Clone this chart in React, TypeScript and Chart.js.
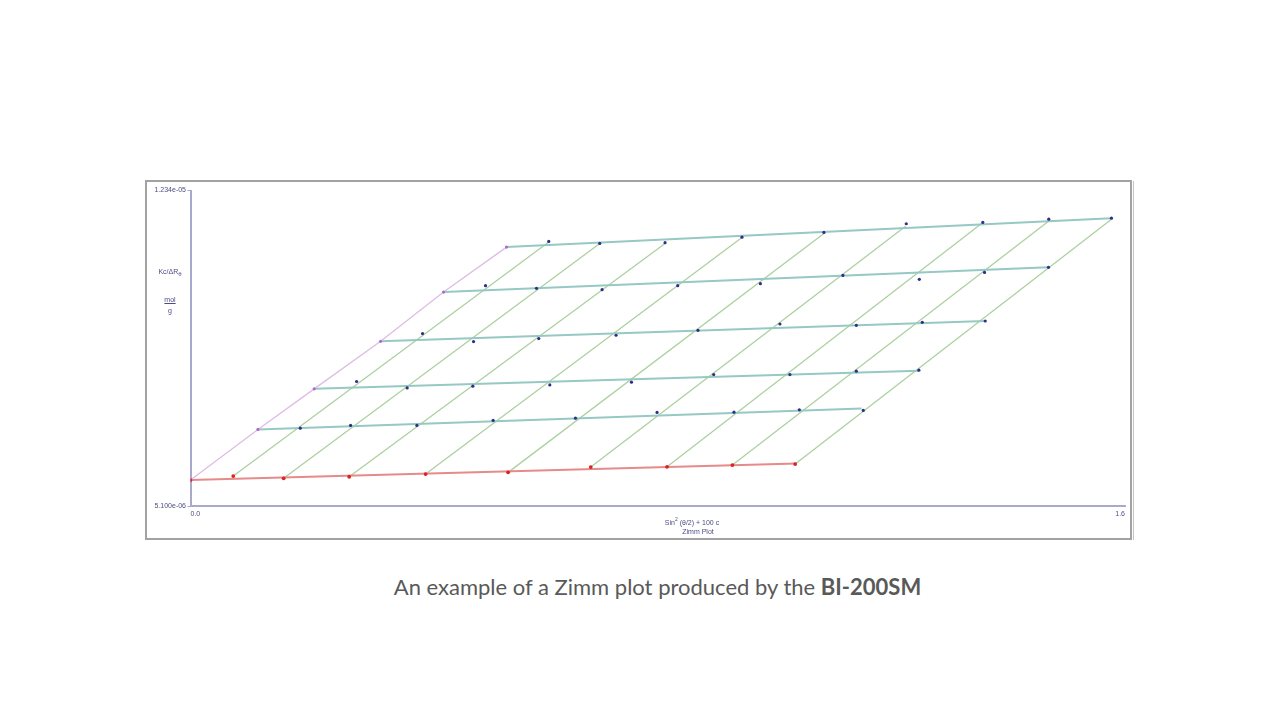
import React, { useEffect, useRef } from "react";
import { Chart, registerables } from "chart.js";

Chart.register(...registerables);

// Axis range (x: sin²(θ/2) + 100c ; y: Kc/ΔRθ in units of 1e-6 mol/g)
const X_MIN = 0;
const X_MAX = 1.6;
const Y_MIN = 5.1;
const Y_MAX = 12.34;

// Measured points, one array pair per concentration (9 angles each)
const measX_c1 = [0.1879, 0.2741, 0.3876, 0.5181, 0.6591, 0.7988, 0.9305, 1.0424, 1.1519];
const measY_c1 = [6.887, 6.949, 6.949, 7.063, 7.116, 7.247, 7.254, 7.306, 7.293];
const measX_c2 = [0.2844, 0.371, 0.4834, 0.6152, 0.755, 0.8958, 1.0263, 1.14, 1.2471];
const measY_c2 = [7.957, 7.81, 7.849, 7.879, 7.941, 8.117, 8.117, 8.193, 8.216];
const measX_c3 = [0.3973, 0.4846, 0.5963, 0.7286, 0.8689, 1.0092, 1.14, 1.2529, 1.3607];
const measY_c3 = [9.057, 8.873, 8.942, 9.018, 9.132, 9.277, 9.247, 9.316, 9.345];
const measX_c4 = [0.5051, 0.5924, 0.7047, 0.8342, 0.9757, 1.117, 1.2478, 1.3595, 1.469];
const measY_c4 = [10.157, 10.095, 10.065, 10.157, 10.202, 10.392, 10.301, 10.461, 10.576];
const measX_c5 = [0.6134, 0.7007, 0.8125, 0.9442, 1.0845, 1.2255, 1.3566, 1.4695, 1.5768];
const measY_c5 = [11.171, 11.126, 11.142, 11.27, 11.378, 11.577, 11.607, 11.682, 11.705];

// Common intercept (c = 0, θ = 0)
const interceptX = 0;
const interceptY = 5.696;

// c = 0 extrapolated points (one per angle)
const zeroConcX = [0.0732, 0.1595, 0.2717, 0.4025, 0.5438, 0.6853, 0.8159, 0.9278, 1.0353];
const zeroConcY = [5.787, 5.735, 5.771, 5.833, 5.872, 5.994, 6.0, 6.039, 6.062];
// end of the c = 0 fit line
const zeroConcFitEndX = 1.0378;
const zeroConcFitEndY = 6.078;

// θ = 0 extrapolated points (one per concentration)
const zeroAngleX = [0.1155, 0.2118, 0.3255, 0.4333, 0.5411];
const zeroAngleY = [6.857, 7.788, 8.88, 10.01, 11.041];

// constant-concentration fit lines: from θ=0 point to these ends
const concFitEndX = [1.149, 1.2471, 1.3607, 1.469, 1.5768];
const concFitEndY = [7.338, 8.204, 9.345, 10.576, 11.705];

// constant-angle fit lines: from c=0 point to these tops
const angleFitTopX = [0.6134, 0.7007, 0.8125, 0.9442, 1.084, 1.2243, 1.3556, 1.4685, 1.5763];
const angleFitTopY = [11.16, 11.126, 11.126, 11.263, 11.348, 11.522, 11.595, 11.63, 11.675];

const AXIS_COLOR = "#a9a9d0";
const TEXT_COLOR = "#4c4c84";
const TEAL = "#96c8c4";
const GREEN = "#abd1a0";
const RED_LINE = "#e68a8a";
const RED_DOT = "#dd2222";
const PURPLE_LINE = "#dfbbe6";
const PURPLE_DOT = "#ad6ccc";
const BLUE_DOT = "#2f2f88";

const pts = (xs: number[], ys: number[]) => xs.map((x, i) => ({ x, y: ys[i] }));

const fmtExp = (v: number) =>
  (v * 1e-6).toExponential(3).replace(/e([+-])(\d)$/, "e$10$2");

export default function App() {
  const ref = useRef<HTMLCanvasElement | null>(null);

  useEffect(() => {
    if (!ref.current) return;
    const measured: [number[], number[]][] = [
      [measX_c1, measY_c1],
      [measX_c2, measY_c2],
      [measX_c3, measY_c3],
      [measX_c4, measY_c4],
      [measX_c5, measY_c5],
    ];
    const datasets: any[] = [];
    measured.forEach(([xs, ys]) =>
      datasets.push({
        data: pts(xs, ys),
        showLine: false,
        pointRadius: 1.6,
        pointBackgroundColor: BLUE_DOT,
        pointBorderWidth: 0,
        order: 0,
      })
    );
    datasets.push({
      data: [{ x: interceptX, y: interceptY }, ...pts(zeroConcX, zeroConcY)],
      showLine: false,
      pointRadius: 1.9,
      pointBackgroundColor: RED_DOT,
      pointBorderWidth: 0,
      order: 0,
    });
    datasets.push({
      data: pts(zeroAngleX, zeroAngleY),
      showLine: false,
      pointRadius: 1.6,
      pointBackgroundColor: PURPLE_DOT,
      pointBorderWidth: 0,
      order: 0,
    });
    // θ = 0 line
    datasets.push({
      data: [{ x: interceptX, y: interceptY }, ...pts(zeroAngleX, zeroAngleY)],
      showLine: true,
      borderColor: PURPLE_LINE,
      borderWidth: 1.3,
      pointRadius: 0,
      order: 1,
    });
    // c = 0 line
    datasets.push({
      data: [
        { x: interceptX, y: interceptY },
        { x: zeroConcFitEndX, y: zeroConcFitEndY },
      ],
      showLine: true,
      borderColor: RED_LINE,
      borderWidth: 2,
      pointRadius: 0,
      order: 1,
    });
    // constant concentration lines
    zeroAngleX.forEach((x, i) =>
      datasets.push({
        data: [
          { x, y: zeroAngleY[i] },
          { x: concFitEndX[i], y: concFitEndY[i] },
        ],
        showLine: true,
        borderColor: TEAL,
        borderWidth: 2,
        pointRadius: 0,
        order: 2,
      })
    );
    // constant angle lines
    zeroConcX.forEach((x, j) =>
      datasets.push({
        data: [
          { x, y: zeroConcY[j] },
          { x: angleFitTopX[j], y: angleFitTopY[j] },
        ],
        showLine: true,
        borderColor: GREEN,
        borderWidth: 1.3,
        pointRadius: 0,
        order: 3,
      })
    );

    const tickFont = { family: "'Liberation Sans', Arial, sans-serif", size: 7 };
    const chart = new Chart(ref.current, {
      type: "scatter",
      data: { datasets },
      options: {
        animation: false,
        responsive: false,
        events: [],
        layout: { padding: { left: 0, right: 6, top: 8.5, bottom: 0 } },
        plugins: { legend: { display: false }, tooltip: { enabled: false } },
        elements: { line: { tension: 0 } },
        scales: {
          x: {
            type: "linear",
            min: X_MIN,
            max: X_MAX,
            afterBuildTicks: (s: any) => {
              s.ticks = [{ value: s.min }, { value: s.max }];
            },
            afterFit: (s: any) => {
              s.height = 32;
            },
            grid: { display: false, drawTicks: false },
            border: { display: true, color: AXIS_COLOR, width: 2 },
            ticks: {
              align: "inner",
              padding: 4,
              color: TEXT_COLOR,
              font: tickFont,
              maxRotation: 0,
              callback: (v: any) => Number(v).toFixed(1),
            },
          },
          y: {
            type: "linear",
            min: Y_MIN,
            max: Y_MAX,
            afterBuildTicks: (s: any) => {
              s.ticks = [{ value: s.min }, { value: s.max }];
            },
            afterFit: (s: any) => {
              s.width = 43.5;
            },
            grid: {
              display: true,
              drawOnChartArea: false,
              drawTicks: true,
              tickLength: 3,
              color: AXIS_COLOR,
            },
            border: { display: true, color: AXIS_COLOR, width: 2 },
            ticks: {
              padding: 1.5,
              color: TEXT_COLOR,
              font: tickFont,
              callback: (v: any) => fmtExp(Number(v)),
            },
          },
        },
      },
    } as any);
    return () => chart.destroy();
  }, []);

  const labelFont = "7px 'Liberation Sans', Arial, sans-serif";
  return (
    <div
      style={{
        position: "fixed",
        left: 0,
        top: 0,
        width: 1280,
        height: 720,
        background: "#ffffff",
        overflow: "hidden",
      }}
    >
      <div
        style={{
          position: "absolute",
          left: 145,
          top: 180,
          width: 987,
          height: 360,
          boxSizing: "border-box",
          border: "2px solid #a2a2a2",
        }}
      />
      <div
        style={{
          position: "absolute",
          left: 1133,
          top: 181,
          width: 1,
          height: 359,
          background: "#c4c4c4",
        }}
      />
      <canvas
        ref={ref}
        width={984}
        height={356}
        style={{ position: "absolute", left: 147, top: 182, width: 984, height: 356 }}
      />
      <div
        style={{
          position: "absolute",
          left: 150,
          top: 268,
          width: 40,
          textAlign: "center",
          font: labelFont,
          color: TEXT_COLOR,
          whiteSpace: "nowrap",
        }}
      >
        Kc/ΔR<sub style={{ fontSize: "6px" }}>θ</sub>
      </div>
      <div
        style={{
          position: "absolute",
          left: 150,
          top: 294,
          width: 40,
          textAlign: "center",
          font: labelFont,
          color: TEXT_COLOR,
          lineHeight: "11px",
        }}
      >
        <span style={{ textDecoration: "underline" }}>mol</span>
        <br />g
      </div>
      <div
        style={{
          position: "absolute",
          left: 692,
          top: 514,
          transform: "translateX(-50%)",
          whiteSpace: "nowrap",
          font: labelFont,
          lineHeight: "10px",
          color: TEXT_COLOR,
        }}
      >
        Sin
        <sup style={{ fontSize: "5px", verticalAlign: "4px" }}>2</sup>
        {" "}(θ/2) + 100 c
      </div>
      <div
        style={{
          position: "absolute",
          left: 698,
          top: 527,
          transform: "translateX(-50%)",
          whiteSpace: "nowrap",
          font: labelFont,
          lineHeight: "10px",
          color: TEXT_COLOR,
        }}
      >
        Zimm Plot
      </div>
      <div
        style={{
          position: "absolute",
          left: 657.5,
          top: 573,
          transform: "translateX(-50%)",
          whiteSpace: "nowrap",
          fontFamily: "Lato, 'Open Sans', sans-serif",
          fontSize: 22,
          color: "#595959",
        }}
      >
        An example of a Zimm plot produced by the <b>BI-200SM</b>
      </div>
    </div>
  );
}
